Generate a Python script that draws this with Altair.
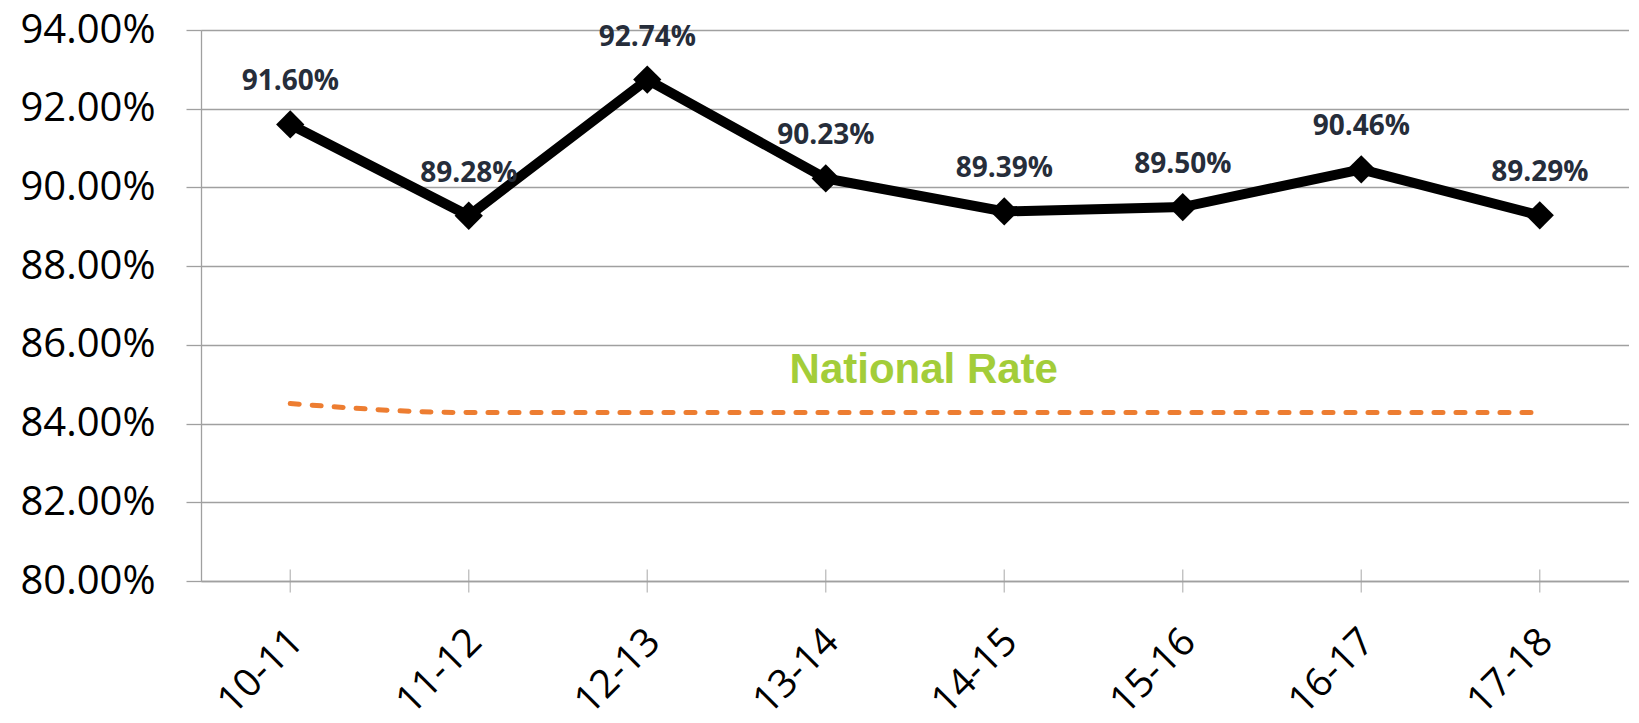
import altair as alt
import pandas as pd

years = ["10-11", "11-12", "12-13", "13-14", "14-15", "15-16", "16-17", "17-18"]
rate = [91.60, 89.28, 92.74, 90.23, 89.39, 89.50, 90.46, 89.29]
national = [84.51, 84.28, 84.28, 84.28, 84.28, 84.28, 84.28, 84.28]
y_ticks = [80, 82, 84, 86, 88, 90, 92, 94]
annotation_text = ["National Rate"]
annotation_x = ["13-14"]
annotation_y = [85.04]

df = pd.DataFrame({"year": years, "rate": rate, "national": national,
                   "label": [f"{v:.2f}%" for v in rate], "base": [80] * len(years)})
ann = pd.DataFrame({"text": annotation_text, "year": annotation_x, "y": annotation_y})

GRID = "#a0a0a0"
FONT = "Open Sans"

x_enc = alt.X("year:N", sort=years,
              scale=alt.Scale(type="point", padding=0.5),
              axis=alt.Axis(title=None, labelAngle=-45, labelAlign="right", labelBaseline="middle",
                            labelFontSize=39, labelFont=FONT, labelColor="#000000",
                            labelPadding=54, labelOffset=6, ticks=False, tickSize=0,
                            domain=True, domainColor=GRID, domainWidth=1.3, grid=False))
y_scale = alt.Scale(domain=[80, 94], nice=False, zero=False)
y_axis = alt.Axis(title=None, values=y_ticks, labelExpr="format(datum.value, '.2f') + '%'",
                  labelFontSize=40, labelFont=FONT, labelColor="#000000", labelPadding=31,
                  tickSize=15, tickColor=GRID, tickWidth=1.3,
                  domain=True, domainColor=GRID, domainWidth=1.3,
                  grid=True, gridColor=GRID, gridWidth=1.3)

base = alt.Chart(df)

nat_line = base.mark_line(color="#ED7D31", strokeWidth=5, strokeDash=[9, 13], strokeCap="round",
                          interpolate="monotone").encode(
    x=x_enc, y=alt.Y("national:Q", scale=y_scale, axis=y_axis))

cat_ticks = base.mark_tick(orient="vertical", color=GRID, size=23, thickness=1.3).encode(
    x=alt.X("year:N", sort=years), y=alt.Y("base:Q"))

main_line = base.mark_line(color="#000000", strokeWidth=10, strokeJoin="miter").encode(
    x=alt.X("year:N", sort=years), y=alt.Y("rate:Q"))

points = base.mark_point(shape="diamond", filled=True, color="#000000", size=800, opacity=1).encode(
    x=alt.X("year:N", sort=years), y=alt.Y("rate:Q"))

labels = base.mark_text(font=FONT, fontSize=28, fontWeight="bold", color="#262D3A",
                        baseline="alphabetic", dy=-34).encode(
    x=alt.X("year:N", sort=years), y=alt.Y("rate:Q"), text="label:N")

ann_text = alt.Chart(ann).mark_text(font="Liberation Sans", fontSize=42, fontWeight="bold",
                                    color="#A3CD39", align="center", baseline="alphabetic", dx=98).encode(
    x=alt.X("year:N", sort=years), y=alt.Y("y:Q"), text="text:N")

chart = alt.layer(nat_line, cat_ticks, main_line, points, labels, ann_text).properties(
    width=1428, height=551,
    autosize=alt.AutoSizeParams(type="none"),
    padding={"left": 193, "top": 22, "right": 0, "bottom": 142},
).configure_view(stroke=None).configure(background="white")

chart.save("out.html", embed_options={"renderer": "svg", "actions": False})
